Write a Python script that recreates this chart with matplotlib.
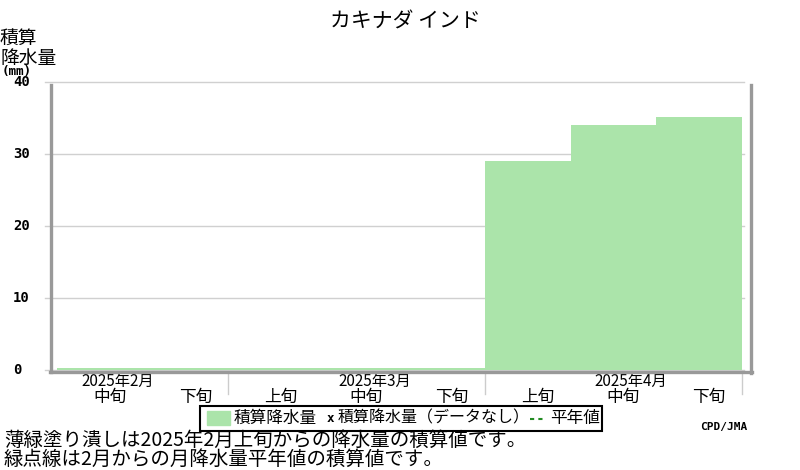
import matplotlib
matplotlib.use('Agg')
import matplotlib.pyplot as plt
from matplotlib.patches import Rectangle
from matplotlib.lines import Line2D
from matplotlib.transforms import blended_transform_factory

plt.rcParams['font.family'] = ['Noto Sans CJK JP', 'DejaVu Sans']

# データ (旬ごとの積算降水量 mm)
months = ['2025年2月', '2025年3月', '2025年4月']
decades = ['中旬', '下旬', '上旬', '中旬', '下旬', '上旬', '中旬', '下旬']
accum_precip = [0.3, 0.3, 0.3, 0.3, 0.3, 29.0, 34.0, 35.1]
month_centers = [0.5, 3.5, 6.5]
month_bounds = [2, 5, 8]
yticks = [0, 10, 20, 30, 40]

W, H = 800, 470


def fx(x):
    return x / W


def fy(y):
    return 1 - y / H


fig = plt.figure(figsize=(8, 4.7), dpi=100)
ax = fig.add_axes([fx(50), fy(370), fx(746) - fx(50), fy(81.5) - fy(370)])
ax.set_xlim(-0.08, 8.05)
ax.set_ylim(0, 40)
for s in ax.spines.values():
    s.set_visible(False)
ax.set_xticks([])
ax.set_yticks([])

# グリッド
for v in yticks:
    ax.plot([-0.14, 8.03], [v, v], color='#d0d0d0', lw=1, clip_on=False, zorder=1)

# 積算降水量
ax.bar(range(len(accum_precip)), accum_precip, width=1, align='edge',
       color='#abe4aa', edgecolor='none', zorder=2)

# 枠 (灰色)
gray = '#999999'
fig.add_artist(Line2D([fx(51), fx(51)], [fy(85), fy(372)], color=gray, lw=2.4))
fig.add_artist(Line2D([fx(50), fx(752)], [fy(371.5), fy(371.5)], color=gray, lw=2.4))
fig.add_artist(Line2D([fx(750.5), fx(750.5)], [fy(85), fy(373)], color=gray, lw=2.4))

# y目盛
ytrans = blended_transform_factory(fig.transFigure, ax.transData)
for v in yticks:
    ax.text(fx(13), v, str(v), transform=ytrans, ha='left', va='center',
            fontsize=10, fontweight='bold', family='DejaVu Sans Mono')

# x目盛
for b in month_bounds:
    ax.plot([b, b], [-0.4, -3.3], color='#cccccc', lw=1, clip_on=False)
for i, d in enumerate(decades):
    ax.annotate(d, (i + 0.5, 0), xytext=(10, -27), textcoords='offset pixels',
                ha='center', va='center', fontsize=12)
for c, m in zip(month_centers, months):
    ax.annotate(m, (c, 0), xytext=(18, -11), textcoords='offset pixels',
                ha='center', va='center', fontsize=11)

# タイトル・軸ラベル
fig.text(fx(405), fy(22), 'カキナダ インド', ha='center', va='center', fontsize=15)
fig.text(fx(0), fy(48), '積算\n降水量', ha='left', va='center', fontsize=13.5,
         linespacing=0.95)
fig.text(fx(2), fy(72), '(mm)', ha='left', va='center', fontsize=9, fontweight='bold',
         family='DejaVu Sans Mono')

# 凡例
fig.add_artist(Rectangle((fx(200), fy(431)), fx(402), fy(406) - fy(431), fill=False,
                         edgecolor='black', lw=1.5))
fig.add_artist(Rectangle((fx(207), fy(425)), fx(23), fy(411) - fy(425), color='#abe4aa'))
fig.text(fx(234), fy(418), '積算降水量', ha='left', va='center', fontsize=12)
fig.text(fx(330), fy(418), 'x', ha='center', va='center', fontsize=9, fontweight='bold',
         family='DejaVu Sans Mono')
fig.text(fx(338), fy(418), '積算降水量（データなし）', ha='left', va='center', fontsize=11.5)
fig.add_artist(Line2D([fx(530), fx(546)], [fy(419), fy(419)], color='#228b22', lw=1.5,
                      linestyle=(0, (2, 2))))
fig.text(fx(550), fy(418), '平年値', ha='left', va='center', fontsize=12)

fig.text(fx(700), fy(427), 'CPD/JMA', ha='left', va='center', fontsize=8, fontweight='bold',
         family='DejaVu Sans Mono')

# 注記
fig.text(fx(4), fy(440), '薄緑塗り潰しは2025年2月上旬からの降水量の積算値です。', ha='left',
         va='center', fontsize=14)
fig.text(fx(4), fy(459), '緑点線は2月からの月降水量平年値の積算値です。', ha='left',
         va='center', fontsize=14)

fig.savefig('out.png', dpi=100)
